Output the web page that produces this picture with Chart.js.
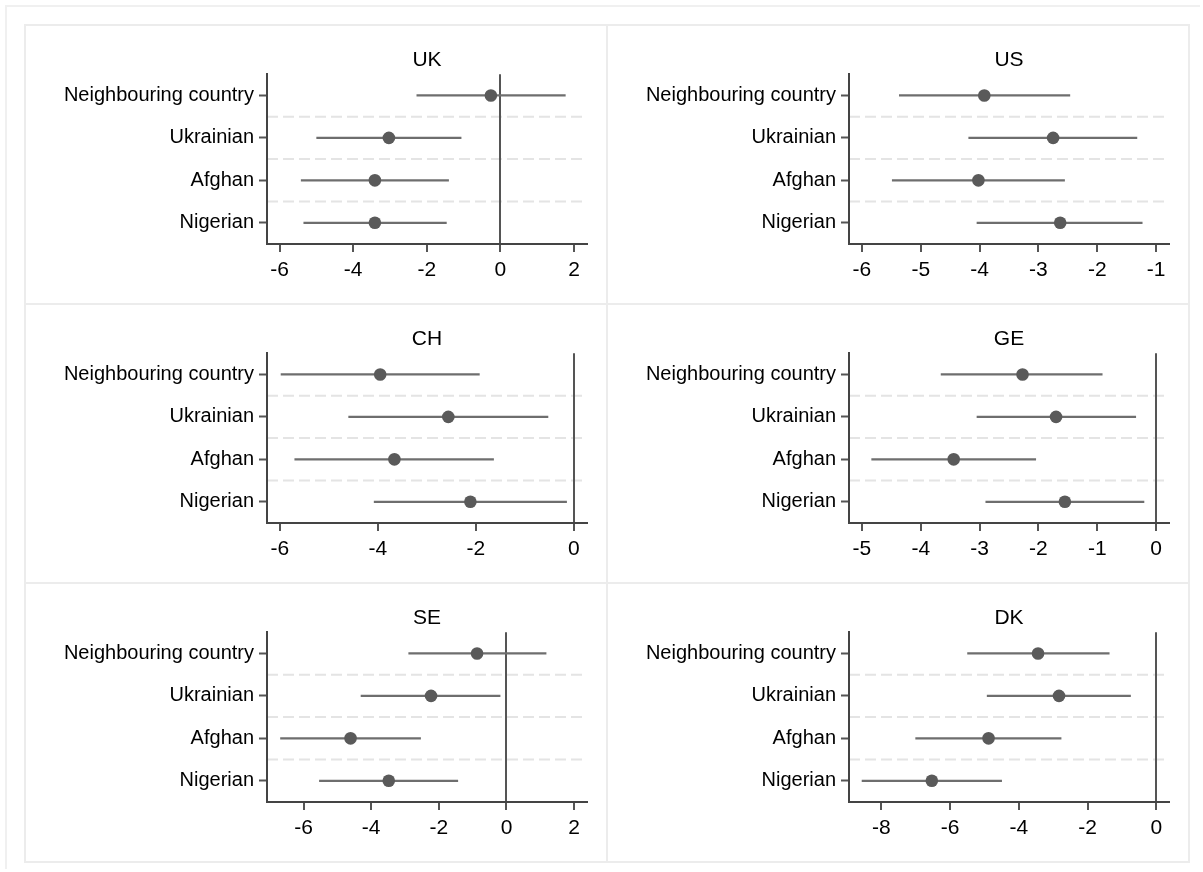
<!DOCTYPE html>
<html>
<head>
<meta charset="utf-8">
<script src="https://cdn.jsdelivr.net/npm/chart.js@4.4.0/dist/chart.umd.min.js"></script>
<style>
  body { margin: 0; background: #fff; overflow: hidden; }
  #frame { position: absolute; left: 5px; top: 5px; width: 1193px; height: 862px;
           border-top: 2px solid #f0f0f0; border-left: 2px solid #f0f0f0; }
  #grid { position: absolute; left: 24px; top: 24px; display: grid;
          grid-template-columns: 580px 580px; grid-template-rows: 277px 277px 277px;
          gap: 2px; padding: 2px; background: #ececec; }
  #grid div { background: #fff; width: 580px; height: 277px; }
  canvas { display: block; }
</style>
</head>
<body>
<div id="frame"></div>
<div id="grid">
  <div><canvas id="UK" width="580" height="277"></canvas></div>
  <div><canvas id="US" width="580" height="277"></canvas></div>
  <div><canvas id="CH" width="580" height="277"></canvas></div>
  <div><canvas id="GE" width="580" height="277"></canvas></div>
  <div><canvas id="SE" width="580" height="277"></canvas></div>
  <div><canvas id="DK" width="580" height="277"></canvas></div>
</div>
<script>
// rows of every panel
var groups = ["Neighbouring country", "Ukrainian", "Afghan", "Nigerian"];

// UK
var ukEst = [-0.26, -3.03, -3.41, -3.41];
var ukLow = [-2.28, -5.00, -5.42, -5.35];
var ukHigh = [1.77, -1.06, -1.40, -1.46];

// US
var usEst = [-3.92, -2.75, -4.02, -2.63];
var usLow = [-5.37, -4.19, -5.49, -4.05];
var usHigh = [-2.46, -1.32, -2.55, -1.23];

// CH
var chEst = [-3.95, -2.56, -3.66, -2.11];
var chLow = [-5.98, -4.60, -5.70, -4.08];
var chHigh = [-1.92, -0.52, -1.63, -0.14];

// GE
var geEst = [-2.27, -1.70, -3.44, -1.55];
var geLow = [-3.66, -3.05, -4.84, -2.90];
var geHigh = [-0.91, -0.34, -2.04, -0.20];

// SE
var seEst = [-0.87, -2.23, -4.61, -3.48];
var seLow = [-2.90, -4.31, -6.69, -5.54];
var seHigh = [1.18, -0.18, -2.53, -1.43];

// DK
var dkEst = [-3.44, -2.83, -4.88, -6.53];
var dkLow = [-5.50, -4.93, -7.01, -8.57];
var dkHigh = [-1.36, -0.74, -2.76, -4.49];

Chart.defaults.font.family = "'Liberation Sans', Arial, sans-serif";
Chart.defaults.font.size = 20;
Chart.defaults.color = "#000";

// dashed lines between the rows
var rowSeparators = {
  id: "rowSeparators",
  beforeDraw: function (chart) {
    var ctx = chart.ctx, area = chart.chartArea, y = chart.scales.y;
    ctx.save();
    ctx.strokeStyle = "#e4e4e4";
    ctx.lineWidth = 2;
    ctx.setLineDash([11, 5]);
    for (var i = 0; i < groups.length - 1; i++) {
      var py = (y.getPixelForTick(i) + y.getPixelForTick(i + 1)) / 2;
      ctx.beginPath();
      ctx.moveTo(area.left, py);
      ctx.lineTo(area.right, py);
      ctx.stroke();
    }
    ctx.restore();
  }
};

function coefPanel(id, est, low, high, xMin, xMax, step) {
  var ciSets = groups.map(function (g, i) {
    return {
      data: [{ x: low[i], y: g }, { x: high[i], y: g }],
      showLine: true,
      borderColor: "#6e6e6e",
      borderWidth: 2.2,
      pointRadius: 0
    };
  });
  var dotSet = {
    data: groups.map(function (g, i) { return { x: est[i], y: g }; }),
    pointRadius: 6.3,
    pointBackgroundColor: "#5a5a5a",
    pointBorderWidth: 0,
    showLine: false
  };

  new Chart(id, {
    type: "scatter",
    data: { datasets: [dotSet].concat(ciSets) },
    options: {
      responsive: false,
      animation: false,
      layout: { padding: { right: 19 } },
      plugins: {
        legend: { display: false },
        tooltip: { enabled: false },
        title: {
          display: true,
          text: id,
          fullSize: false,
          color: "#000",
          font: { size: 21, weight: "normal" },
          padding: { top: 22, bottom: 1 }
        }
      },
      scales: {
        x: {
          type: "linear",
          min: xMin,
          max: xMax,
          ticks: { stepSize: step, includeBounds: false, padding: 6, font: { size: 21 },
                   callback: function (v) { return String(v); } },
          grid: {
            color: function (c) { return c.tick && c.tick.value === 0 ? "#555" : "rgba(0,0,0,0)"; },
            lineWidth: 2,
            tickColor: "#555",
            tickLength: 8,
            tickWidth: 2
          },
          border: { color: "#444", width: 2 },
          afterFit: function (s) { s.height = 59; }
        },
        y: {
          type: "category",
          labels: groups,
          offset: true,
          ticks: { padding: 5 },
          grid: { drawOnChartArea: false, tickColor: "#555", tickLength: 8, tickWidth: 2 },
          border: { color: "#444", width: 2 },
          afterFit: function (s) { s.width = 241; }
        }
      }
    },
    plugins: [rowSeparators]
  });
}

coefPanel("UK", ukEst, ukLow, ukHigh, -6.34, 2.35, 2);
coefPanel("US", usEst, usLow, usHigh, -6.22, -0.78, 1);
coefPanel("CH", chEst, chLow, chHigh, -6.26, 0.27, 2);
coefPanel("GE", geEst, geLow, geHigh, -5.22, 0.22, 1);
coefPanel("SE", seEst, seLow, seHigh, -7.08, 2.38, 2);
coefPanel("DK", dkEst, dkLow, dkHigh, -8.94, 0.37, 2);
</script>
</body>
</html>
